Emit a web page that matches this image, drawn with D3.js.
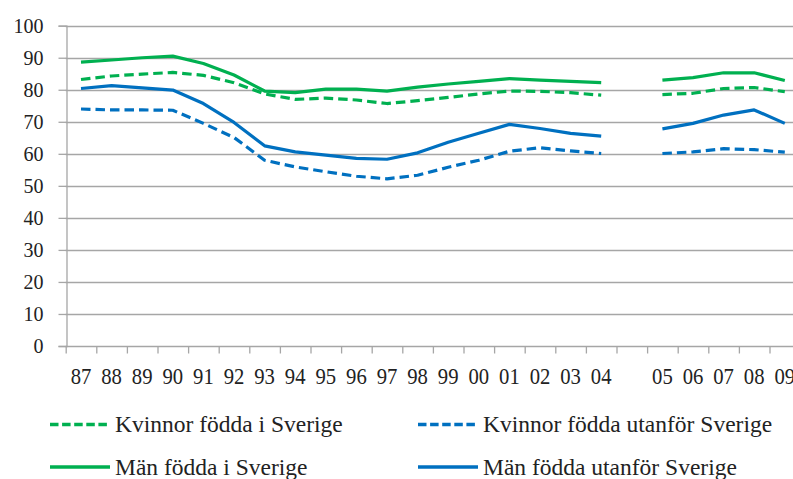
<!DOCTYPE html>
<html><head><meta charset="utf-8">
<script src="https://cdn.jsdelivr.net/npm/d3@7"></script>
<style>
html,body{margin:0;padding:0;background:#fff;}
svg{display:block;}
svg text{font-family:"Liberation Serif","LiberationSerif","Tinos","Noto Serif","DejaVu Serif","FreeSerif","Nimbus Roman","Nimbus Roman No9 L","Times New Roman","Times","Georgia",serif;}
</style></head>
<body>
<svg id="c" width="793" height="479"></svg>
<script>
const categories = ["87","88","89","90","91","92","93","94","95","96","97","98","99","00","01","02","03","04","","05","06","07","08","09"];
const kvinnorSverige = [83.2,84.3,84.9,85.4,84.5,82.2,78.7,77.0,77.4,76.8,75.7,76.6,77.6,78.7,79.6,79.5,79.1,78.3,null,78.5,78.9,80.4,80.7,79.4];
const kvinnorUtanfor = [74.0,73.7,73.7,73.6,69.5,65.1,58.0,55.9,54.4,53.0,52.2,53.3,55.8,58.0,60.8,61.9,60.9,60.1,null,60.1,60.6,61.6,61.3,60.5];
const manSverige = [88.6,89.3,90.0,90.5,88.2,84.6,79.6,79.1,80.2,80.2,79.6,80.8,81.8,82.6,83.5,83.0,82.6,82.2,null,83.0,83.8,85.3,85.3,82.9];
const manUtanfor = [80.4,81.3,80.6,79.9,75.7,69.8,62.5,60.6,59.6,58.6,58.3,60.3,63.6,66.4,69.2,67.9,66.4,65.5,null,67.8,69.5,72.1,73.7,69.5];
const yTicks = [0,10,20,30,40,50,60,70,80,90,100];

const series = [
  {name:"Kvinnor födda i Sverige", values:kvinnorSverige, color:"#00b050", dash:"9.5,5"},
  {name:"Kvinnor födda utanför Sverige", values:kvinnorUtanfor, color:"#0070c0", dash:"9.5,5"},
  {name:"Män födda i Sverige", values:manSverige, color:"#00b050", dash:null},
  {name:"Män födda utanför Sverige", values:manUtanfor, color:"#0070c0", dash:null}
];

(function(){
const svg = d3.select("#c");
const pLeft = 65.7, pTop = 25.7, pBottom = 346, step = 30.6;
const pRight = pLeft + step*categories.length;

const x = d3.scaleBand().domain(d3.range(categories.length)).range([pLeft, pRight]).padding(0);
const xb = d3.scaleLinear().domain([0, categories.length]).range([pLeft, pRight]);
const y = d3.scaleLinear().domain([0,100]).range([pBottom, pTop]);

const grid = "#a6a6a6";

// gridlines
svg.append("g").selectAll("line").data(yTicks.filter(d=>d>0)).join("line")
  .attr("x1", pLeft).attr("x2", pRight)
  .attr("y1", d=>Math.round(y(d))+0.5).attr("y2", d=>Math.round(y(d))+0.5)
  .attr("stroke", grid).attr("stroke-width", 1.3);

// y axis
const yAxis = svg.append("g").attr("transform", `translate(${Math.round(pLeft)+0.5},0)`)
  .call(d3.axisLeft(y).tickValues(yTicks).tickSize(8).tickPadding(15).tickFormat(d3.format("d")));
yAxis.attr("font-family", null);
yAxis.select(".domain").attr("stroke", grid).attr("stroke-width",1.3);
yAxis.selectAll(".tick line").attr("stroke", grid).attr("stroke-width",1.3);
yAxis.selectAll(".tick text").attr("font-size", 20).attr("fill","#222").attr("dy","0.34em");

// x axis boundary ticks
const xAxisTicks = svg.append("g").attr("transform", `translate(0,${Math.round(pBottom)+0.5})`)
  .call(d3.axisBottom(xb).tickValues(d3.range(0, categories.length+1)).tickSize(7).tickFormat(""));
xAxisTicks.select(".domain").attr("stroke", grid).attr("stroke-width",1.3).attr("d", `M${pLeft},0H${pRight}`);
xAxisTicks.selectAll(".tick line").attr("stroke", grid).attr("stroke-width",1.3);

// x axis labels
const xAxisLabels = svg.append("g").attr("transform", `translate(0,${pBottom})`)
  .call(d3.axisBottom(x).tickSize(0).tickFormat(i => categories[i]));
xAxisLabels.attr("font-family", null);
xAxisLabels.select(".domain").remove();
xAxisLabels.selectAll(".tick text")
  .attr("font-size", 23.5).attr("fill","#222")
  .attr("y", 0).attr("dy", 0)
  .attr("transform", "translate(0,38) scale(0.88,1)");

// lines
const line = d3.line()
  .defined(d => d.v != null)
  .x(d => x(d.i) + x.bandwidth()/2)
  .y(d => y(d.v));

svg.append("g").selectAll("path").data(series).join("path")
  .attr("d", s => line(s.values.map((v,i)=>({i, v}))))
  .attr("fill","none")
  .attr("stroke", s=>s.color)
  .attr("stroke-width", 3.2)
  .attr("stroke-dasharray", s=>s.dash)
  .attr("stroke-linejoin","round");

// legend
const legPos = [
  {lx:50, tx:115, ly:424.5, ty:432},
  {lx:418, tx:483, ly:424.5, ty:432},
  {lx:50, tx:115, ly:467, ty:475},
  {lx:418, tx:483, ly:467, ty:475}
];
const leg = svg.append("g").selectAll("g").data(series).join("g");
leg.append("line")
  .attr("x1",(s,i)=>legPos[i].lx).attr("x2",(s,i)=>legPos[i].lx + 60)
  .attr("y1",(s,i)=>legPos[i].ly).attr("y2",(s,i)=>legPos[i].ly)
  .attr("stroke", s=>s.color).attr("stroke-width", 3.5)
  .attr("stroke-dasharray", s=>s.dash ? "8.5,3.6" : null);
leg.append("text")
  .attr("x",(s,i)=>legPos[i].tx).attr("y",(s,i)=>legPos[i].ty)
  .attr("font-size", 23.5).attr("fill","#222")
  .text(s=>s.name);
})();
</script>
</body></html>
